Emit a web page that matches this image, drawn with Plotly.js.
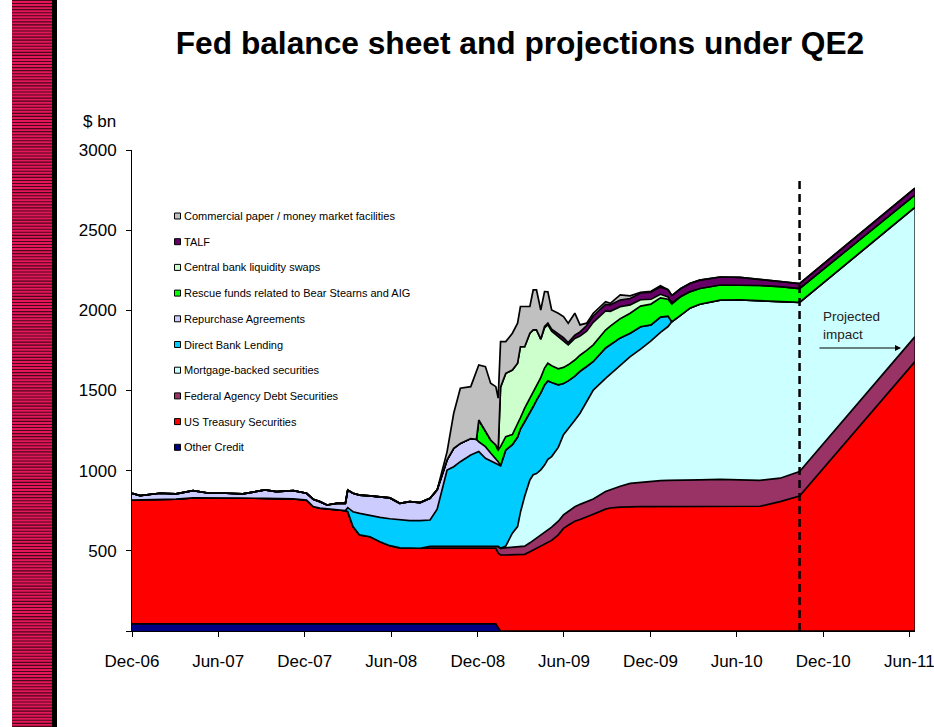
<!DOCTYPE html>
<html><head><meta charset="utf-8">
<script src="https://cdn.plot.ly/plotly-3.0.1.min.js"></script>
<style>html,body{margin:0;padding:0;background:#fff}#chart{width:934px;height:727px}</style>
</head><body><div id="chart"></div>
<script>
// ---------- DATA ($ bn) ----------
const dates = ['2006-12-01','2006-12-18','2007-01-29','2007-03-04','2007-04-09','2007-05-14','2007-06-18','2007-07-23','2007-09-08','2007-10-02','2007-11-07','2007-12-05','2007-12-19','2008-01-02','2008-01-17','2008-02-07','2008-02-25','2008-03-01','2008-03-12','2008-03-26','2008-04-17','2008-05-08','2008-05-29','2008-06-19','2008-07-10','2008-08-01','2008-08-22','2008-09-06','2008-09-20','2008-09-27','2008-10-11','2008-10-25','2008-11-16','2008-11-28','2008-12-03','2008-12-17','2008-12-28','2009-01-08','2009-01-13','2009-01-18','2009-01-29','2009-02-12','2009-02-23','2009-03-01','2009-03-10','2009-03-21','2009-03-28','2009-04-04','2009-04-13','2009-04-21','2009-04-28','2009-05-06','2009-05-20','2009-05-31','2009-06-10','2009-06-24','2009-07-05','2009-07-19','2009-08-02','2009-08-28','2009-09-07','2009-09-28','2009-10-19','2009-11-10','2009-12-02','2009-12-22','2010-01-07','2010-01-15','2010-02-03','2010-02-23','2010-03-15','2010-04-27','2010-06-08','2010-07-20','2010-09-01','2010-09-22','2010-10-12','2011-06-13'];

const otherCredit   = [44,44,44,44,44,44,44,44,44,44,44,44,44,44,44,44,44,44,44,44,44,44,44,44,44,44,44,44,44,44,44,44,44,44,44,44,44,44,20,0,0,0,0,0,0,0,0,0,0,0,0,0,0,0,0,0,0,0,0,0,0,0,0,0,0,0,0,0,0,0,0,0,0,0,0,0,0,0];
const usTreasury    = [773,774,776,779,786,787,786,785,783,782,780,772,732,722,717,712,707,700,607,555,544,513,488,474,472,472,472,472,472,472,472,472,472,472,472,472,472,472,465,474,474,474,474,474,478,495,505,515,530,540,550,565,600,640,660,685,695,710,728,760,767,773,776,776,776,776,776,776,776,776,776,776,776,778,807,823,842,1680];
const agencyDebt    = [0,0,0,0,0,0,0,0,0,0,0,0,0,0,0,0,0,0,0,0,0,0,0,0,0,0,12,12,12,12,12,12,12,12,12,12,12,12,43,42,44,46,49,51,51,55,60,62,65,75,80,83,85,84,85,90,95,95,95,110,115,130,145,152,158,162,163,163,164,165,167,170,168,162,146,150,152,156];
const mbs           = [0,0,0,0,0,0,0,0,0,0,0,0,0,0,0,0,0,0,0,0,0,0,0,0,0,0,0,0,0,0,0,0,0,0,0,0,0,0,0,0,12,90,128,215,311,392,410,405,410,420,440,440,460,500,520,540,568,630,680,705,720,755,790,830,875,925,960,990,1030,1074,1095,1118,1121,1120,1100,1080,1056,807];
const directLending = [0,0,0,0,0,0,0,0,0,0,0,0,0,0,0,0,0,25,93,135,132,152,168,175,172,172,164,232,402,476,497,528,570,587,591,549,532,518,508,514,599,552,559,520,465,418,425,458,480,500,490,462,390,320,295,275,262,215,178,190,185,170,146,140,100,95,65,0,0,0,0,0,0,0,0,0,0,0];
const repos         = [42,26,39,32,45,28,29,26,53,43,51,43,46,41,25,40,45,110,115,114,123,129,130,103,119,113,136,120,70,63,115,114,102,80,61,73,50,29,20,0,0,0,0,0,0,0,0,0,0,0,0,0,0,0,0,0,0,0,0,0,0,0,0,0,0,0,0,0,0,0,0,0,0,0,0,0,0,0];
const rescueFunds   = [0,0,0,0,0,0,0,0,0,0,0,0,0,0,0,0,0,0,0,0,0,0,0,0,0,0,0,0,0,0,0,0,0,0,136,100,81,85,73,120,83,63,80,70,85,90,95,95,95,105,110,105,100,100,100,100,100,100,104,112,115,120,125,128,130,120,105,110,115,102,98,94,93,95,95,88,86,77];
const cbSwaps       = [0,0,0,0,0,0,0,0,0,0,0,0,0,0,0,0,0,0,0,0,0,0,0,0,0,0,0,0,0,0,0,0,0,0,0,0,0,0,0,370,395,403,380,443,383,407,383,343,240,250,240,215,201,170,124,135,120,120,140,120,92,75,52,40,30,22,15,8,3,0,0,0,0,0,0,0,0,0];
const talf          = [0,0,0,0,0,0,0,0,0,0,0,0,0,0,0,0,0,0,0,0,0,0,0,0,0,0,0,0,0,0,0,0,0,0,0,0,0,0,0,0,0,0,0,0,0,0,0,0,0,10,10,12,15,15,15,20,25,35,40,40,40,41,40,42,45,45,45,45,48,52,52,50,48,38,33,31,31,42];
const commPaper     = [0,0,0,0,0,0,0,0,0,0,0,0,0,0,0,0,0,0,0,0,0,0,0,0,0,0,0,0,30,52,218,344,324,420,343,399,354,364,323,285,198,229,250,251,251,167,249,249,182,217,196,120,131,132,121,137,44,15,17,17,10,32,16,5,5,8,0,0,0,0,0,0,0,0,0,0,0,0];

const seriesNames  = ['Other Credit','US Treasury Securities','Federal Agency Debt Securities','Mortgage-backed securities','Direct Bank Lending','Repurchase Agreements','Rescue funds related to Bear Stearns and AIG','Central bank liquidity swaps','TALF','Commercial paper / money market facilities'];
const seriesValues = [otherCredit, usTreasury, agencyDebt, mbs, directLending, repos, rescueFunds, cbSwaps, talf, commPaper];
const seriesColors = ['#000080','#FF0000','#993366','#CCFFFF','#00CCFF','#CCCCFF','#00FF00','#CCFFCC','#660066','#C0C0C0'];

const tickDates  = ['2006-12-01','2007-06-01','2007-12-01','2008-06-01','2008-12-01','2009-06-01','2009-12-01','2010-06-01','2010-12-01','2011-06-01'];
const tickLabels = ['Dec-06','Jun-07','Dec-07','Jun-08','Dec-08','Jun-09','Dec-09','Jun-10','Dec-10','Jun-11'];
const yTicks     = [0,500,1000,1500,2000,2500,3000];
const yTickText  = ['','500','1000','1500','2000','2500','3000'];
const projectionStart = '2010-10-12';
const titleText = 'Fed balance sheet and projections under QE2';
const unitLabel = '$ bn';
const projLabel = 'Projected<br>impact';

// ---------- CHART ----------
const FONT = 'Liberation Sans, Arial, sans-serif';
const W = 934, H = 727, ML = 132, MR = 19, MT = 150, MB = 96;
const PW = W - ML - MR, PH = H - MT - MB;
const px2x = p => (p - ML) / PW;
const py2y = p => (H - MB - p) / PH;

const traces = seriesValues.map((vals, i) => ({
  type: 'scatter', mode: 'lines', x: dates, y: vals,
  stackgroup: 'fed', name: seriesNames[i],
  line: {color: '#000', width: 1.7}, fillcolor: seriesColors[i],
  hoverinfo: 'skip', showlegend: false
}));

const shapes = [];
const annotations = [];

// decorative striped band on the left
shapes.push({type:'rect', xref:'paper', yref:'paper', x0:px2x(12), x1:px2x(52), y0:py2y(H), y1:py2y(0), fillcolor:'#E3165B', line:{width:0}, layer:'above'});
let stripe = '';
for (let p = 0.5; p < H; p += 3.05) {
  stripe += `M${px2x(12)},${py2y(p)} L${px2x(52)},${py2y(p)} `;
}
shapes.push({type:'path', xref:'paper', yref:'paper', path:stripe, line:{color:'#4a0818', width:1.1}, layer:'above'});
shapes.push({type:'rect', xref:'paper', yref:'paper', x0:px2x(52), x1:px2x(57), y0:py2y(H), y1:py2y(0), fillcolor:'#000', line:{width:0}, layer:'above'});

// projection start dashed line
shapes.push({type:'line', xref:'x', yref:'paper', x0:projectionStart, x1:projectionStart, y0:0, y1:py2y(180), line:{color:'#000', width:2.5, dash:'8px,5px'}});

// right edge outline of the stacked area
const lastIdx = dates.length - 1;
const lastTotal = seriesValues.reduce((s, v) => s + v[lastIdx], 0);
shapes.push({type:'line', xref:'x', yref:'y', x0:dates[lastIdx], x1:dates[lastIdx], y0:0, y1:lastTotal, line:{color:'#000', width:1.2}});

// legend (reverse stack order, top to bottom)
for (let k = 0; k < seriesNames.length; k++) {
  const i = seriesNames.length - 1 - k;
  const cy = 216 + 25.7 * k;
  shapes.push({type:'rect', xref:'paper', yref:'paper', x0:px2x(174.5), x1:px2x(180.5), y0:py2y(cy + 3), y1:py2y(cy - 3), fillcolor:seriesColors[i], line:{color:'#000', width:1}});
  annotations.push({xref:'paper', yref:'paper', x:px2x(182), y:py2y(cy), xanchor:'left', yanchor:'middle', showarrow:false, text:seriesNames[i], font:{size:11, color:'#000', family:FONT}});
}

// unit label
annotations.push({xref:'paper', yref:'paper', x:px2x(99), y:py2y(121), xanchor:'center', yanchor:'middle', showarrow:false, text:unitLabel, font:{size:17, color:'#000', family:FONT}});

// projected impact text + arrow
annotations.push({xref:'paper', yref:'paper', x:px2x(821), y:py2y(325), xanchor:'left', yanchor:'middle', align:'left', showarrow:false, text:projLabel, font:{size:13.5, color:'#222', family:FONT}});
annotations.push({xref:'paper', yref:'paper', x:px2x(901), y:py2y(348), ax:-83, ay:0, axref:'pixel', ayref:'pixel', showarrow:true, arrowhead:2, arrowsize:1, arrowwidth:1.2, arrowcolor:'#000', text:''});

const layout = {
  width: W, height: H,
  margin: {l: ML, r: MR, t: MT, b: MB, pad: 0},
  paper_bgcolor: '#fff', plot_bgcolor: '#fff',
  font: {family: FONT, color: '#000'},
  showlegend: false,
  title: {text: '<b>' + titleText + '</b>', font: {size: 31.7, color: '#000', family: FONT}, x: px2x(520), xref: 'paper', xanchor: 'center', y: 1 - 43 / H, yref: 'container', yanchor: 'middle'},
  xaxis: {type: 'date', range: [dates[0], dates[lastIdx]], tickmode: 'array', tickvals: tickDates, ticktext: tickLabels,
          ticks: 'outside', ticklen: 5, tickwidth: 1, tickcolor: '#000', showline: true, linecolor: '#000', linewidth: 1,
          showgrid: false, zeroline: false, tickfont: {size: 17, color: '#000'}, ticklabelstandoff: 10,
          ticklabeloverflow: 'allow', fixedrange: true},
  yaxis: {range: [0, 3000], tickmode: 'array', tickvals: yTicks, ticktext: yTickText,
          ticks: 'outside', ticklen: 5, tickwidth: 1, tickcolor: '#000', showline: true, linecolor: '#000', linewidth: 1,
          showgrid: false, zeroline: false, tickfont: {size: 17, color: '#000'}, ticklabelstandoff: 6, fixedrange: true},
  shapes: shapes,
  annotations: annotations
};

Plotly.newPlot('chart', traces, layout, {displayModeBar: false, staticPlot: true});
</script>
</body></html>
